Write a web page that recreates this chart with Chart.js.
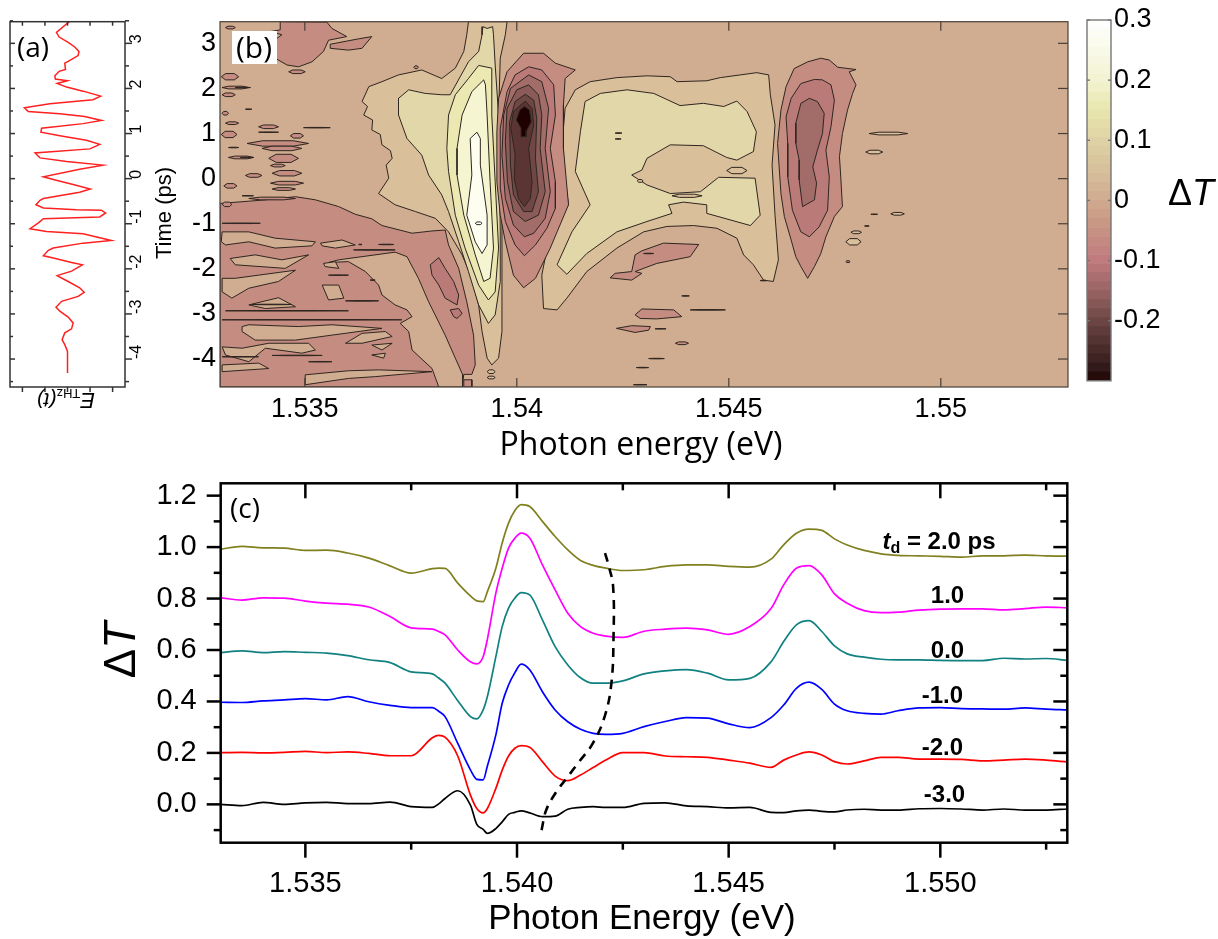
<!DOCTYPE html>
<html>
<head>
<meta charset="utf-8">
<title>Time resolved differential transmission</title>
<script src="https://cdn.jsdelivr.net/npm/chart.js@4"></script>
<style>
  html, body { margin: 0; padding: 0; background: #fff; }
  #page { position: relative; width: 1218px; height: 939px; overflow: hidden; }
  canvas { position: absolute; }
</style>
</head>
<body>
<div id="page">
  <canvas id="fieldChart"></canvas>
  <canvas id="mapChart"></canvas>
  <canvas id="barChart"></canvas>
  <canvas id="spectraChart"></canvas>
</div>
<script>
// panel (a): THz field against time
const fieldTime = [3.49,3.24,3.14,3.02,2.92,2.82,2.73,2.60,2.56,2.42,2.38,2.28,2.21,2.17,2.11,2.03,1.94,1.83,1.75,1.66,1.57,1.49,1.44,1.38,1.29,1.22,1.12,1.03,0.95,0.85,0.76,0.66,0.57,0.46,0.38,0.30,0.21,0.04,-0.02,-0.13,-0.23,-0.30,-0.44,-0.48,-0.58,-0.65,-0.69,-0.70,-0.76,-0.85,-0.89,-0.98,-1.11,-1.17,-1.22,-1.37,-1.43,-1.54,-1.59,-1.71,-1.76,-1.86,-1.91,-2.05,-2.15,-2.28,-2.42,-2.52,-2.61,-2.72,-2.85,-2.94,-3.07,-3.20,-3.33,-3.42,-3.57,-3.68,-3.83,-4.31];
const fieldValues = [0.10,-0.49,-0.37,0.03,0.32,0.51,0.47,0.03,-0.12,-0.09,-0.37,-0.56,-0.54,0,-0.46,-0.04,0.69,1.47,1.13,-0.78,-1.91,-1.74,-0.34,0.76,1.51,0.69,-1.15,-1.18,-0.34,0.84,1.43,0.99,-1.44,-1.22,-0.04,1.57,0.54,-1.07,-0.63,0.25,1.01,0.54,-1.07,-1.22,-1.40,-1.07,0.40,1.50,1.69,1.43,-1.07,-1.29,-1.66,-0.93,0.69,1.94,0.69,-0.63,-0.85,-1.07,-0.63,0.18,0.66,0.18,-0.46,0.03,0.54,0.74,0.47,-0.26,-0.51,-0.34,0.03,0.25,0.18,-0.12,-0.24,-0.12,0,0];
const timeTicks = [3,2,1,0,-1,-2,-3,-4];
const timeMinorTicks = [3.5,2.5,1.5,0.5,-0.5,-1.5,-2.5,-3.5,-4.5];
const fieldTicks = [-2,-1,0,1,2];

// panel (b): filled contours, lowest layer first, as [eV, ps]
const troughLower = [[1.533,-0.55],[1.53368,-0.50],[1.53407,-0.47],[1.53478,-0.40],[1.53525,-0.47],[1.53580,-0.62],[1.53619,-0.79],[1.53658,-0.89],[1.53682,-1.04],[1.53753,-1.21],[1.53800,-1.16],[1.53831,-1.14],[1.53839,-1.47],[1.53863,-1.99],[1.53882,-2.73],[1.53898,-3.47],[1.53902,-4.13],[1.53894,-4.34],[1.53875,-4.34],[1.53871,-4.62],[1.533,-4.62]];
const troughUpper = [
  [[1.53442,3.48],[1.53552,3.47],[1.53564,3.33],[1.53599,3.15],[1.53556,3.07],[1.53544,2.82],[1.53517,2.59],[1.53485,2.48],[1.53458,2.52],[1.53423,2.71],[1.53415,2.89],[1.53434,3.11],[1.53446,3.19],[1.53419,3.26],[1.53442,3.30]],
  [[1.53560,2.98],[1.53627,3.10],[1.53658,3.15],[1.53635,2.89],[1.53603,2.85],[1.53560,2.89]],
  [[1.54295,-1.60],[1.54346,-1.43],[1.54429,-1.46],[1.54409,-1.73],[1.54330,-1.88],[1.54279,-2.06],[1.54295,-2.10],[1.54271,-2.25],[1.54220,-2.20],[1.54232,-2.10],[1.54271,-2.06],[1.54279,-1.69]],
  [[1.54279,-3.02],[1.54295,-2.89],[1.54370,-2.91],[1.54389,-3.06],[1.54330,-3.11],[1.54291,-3.10]],
  [[1.54235,-3.32],[1.54271,-3.26],[1.54315,-3.28],[1.54311,-3.36],[1.54279,-3.41]],
  [[1.53875,-4.46],[1.53894,-4.46],[1.53894,-4.62],[1.53875,-4.62]]
];
const troughDeeper = [
  [[1.53796,-1.91],[1.53816,-1.75],[1.53831,-1.99],[1.53851,-2.28],[1.53863,-2.58],[1.53859,-2.80],[1.53831,-2.65],[1.53816,-2.36],[1.53800,-2.14]],
  [[1.53843,-2.91],[1.53863,-2.88],[1.53871,-2.99],[1.53859,-3.10],[1.53851,-3.06]]
];
const tanIslands = [
  [[1.53713,-1.63],[1.53741,-1.73],[1.53768,-2.21],[1.53792,-2.73],[1.53831,-3.47],[1.53855,-3.98],[1.53872,-4.34],[1.53872,-4.62],[1.53816,-4.62],[1.53800,-4.21],[1.53753,-3.80],[1.53745,-3.39],[1.53725,-3.21],[1.53753,-3.06],[1.53741,-2.91],[1.53713,-2.80],[1.53682,-2.58],[1.53674,-2.36],[1.53643,-2.06],[1.53603,-1.84],[1.53556,-1.86],[1.53580,-1.80]],
  [[1.53305,-1.18],[1.53368,-1.18],[1.53430,-1.32],[1.53525,-1.40],[1.53517,-1.49],[1.53430,-1.54],[1.53368,-1.40],[1.53313,-1.47],[1.53303,-1.40]],
  [[1.53537,-1.43],[1.53588,-1.36],[1.53619,-1.47],[1.53572,-1.54],[1.53541,-1.49]],
  [[1.53324,-1.77],[1.53383,-1.69],[1.53446,-1.80],[1.53509,-1.69],[1.53454,-1.99],[1.53336,-1.91]],
  [[1.53544,-1.88],[1.53572,-1.84],[1.53580,-1.99],[1.53548,-1.95]],
  [[1.53305,-2.21],[1.53336,-2.21],[1.53391,-2.14],[1.53478,-2.03],[1.53438,-2.28],[1.53368,-2.43],[1.53328,-2.65],[1.53305,-2.51]],
  [[1.53541,-2.36],[1.53580,-2.36],[1.53592,-2.65],[1.53556,-2.69]],
  [[1.53368,-2.80],[1.53438,-2.64],[1.53478,-2.84],[1.53407,-2.88]],
  [[1.53596,-3.65],[1.53635,-3.43],[1.53690,-3.39],[1.53706,-3.50],[1.53635,-3.65]],
  [[1.53305,-3.73],[1.53352,-3.76],[1.53415,-3.65],[1.53509,-3.65],[1.53525,-3.80],[1.53493,-3.87],[1.53407,-3.76],[1.53368,-4.06],[1.53313,-3.91]],
  [[1.53352,-3.28],[1.53368,-3.24],[1.53485,-3.28],[1.53564,-3.24],[1.53682,-3.32],[1.53564,-3.47],[1.53478,-3.58],[1.53383,-3.58],[1.53352,-3.39]],
  [[1.53305,-4.13],[1.53391,-4.09],[1.53415,-4.21],[1.53305,-4.28]],
  [[1.53501,-4.35],[1.53603,-4.26],[1.53674,-4.24],[1.53800,-4.28],[1.53666,-4.39],[1.53603,-4.43],[1.53501,-4.57]],
  [[1.53658,-3.69],[1.53706,-3.65],[1.53682,-3.80]],
  [[1.53658,-3.91],[1.53690,-3.87],[1.53686,-3.98]]
];
const lobeLevels = [
  [[1.53886,3.48],[1.53882,3.19],[1.53875,2.82],[1.53855,2.45],[1.53823,2.22],[1.53776,2.41],[1.53721,2.30],[1.53682,2.15],[1.53651,2.04],[1.53635,1.71],[1.53648,1.60],[1.53639,1.41],[1.53660,1.30],[1.53658,1.08],[1.53678,0.98],[1.53682,0.75],[1.53702,0.62],[1.53706,0.45],[1.53692,0.30],[1.53698,0.01],[1.53674,-0.33],[1.53713,-0.58],[1.53761,-0.73],[1.53808,-0.88],[1.53839,-1.18],[1.53871,-1.69],[1.53894,-2.21],[1.53910,-2.80],[1.53918,-3.39],[1.53930,-3.98],[1.53941,-4.13],[1.53957,-3.98],[1.53965,-3.39],[1.53965,-2.65],[1.53965,-1.54],[1.53965,-0.81],[1.53961,0.30],[1.53957,1.41],[1.53961,2.67],[1.53973,3.19],[1.53977,3.48]],
  [[1.53920,3.37],[1.53918,3.19],[1.53910,2.82],[1.53886,2.59],[1.53843,1.86],[1.53823,1.86],[1.53784,1.89],[1.53745,1.97],[1.53721,1.78],[1.53721,1.41],[1.53741,0.89],[1.53776,0.52],[1.53792,0.08],[1.53823,-0.36],[1.53839,-0.73],[1.53863,-1.40],[1.53886,-2.06],[1.53910,-2.80],[1.53933,-3.21],[1.53949,-3.02],[1.53961,-2.28],[1.53961,-1.18],[1.53957,1.41],[1.53949,2.52],[1.53945,3.19],[1.53943,3.37],[1.53930,3.33]],
  [[1.53941,2.45],[1.53910,2.51],[1.53886,2.22],[1.53855,1.86],[1.53839,1.41],[1.53835,0.67],[1.53839,0.16],[1.53855,-0.81],[1.53878,-1.54],[1.53910,-2.36],[1.53933,-2.69],[1.53949,-2.51],[1.53957,-1.54],[1.53949,-0.07],[1.53941,1.41],[1.53941,2.15]],
  [[1.53922,2.19],[1.53894,1.93],[1.53871,1.41],[1.53859,0.67],[1.53859,0.08],[1.53875,-0.81],[1.53902,-1.69],[1.53922,-2.28],[1.53937,-2.21],[1.53945,-1.54],[1.53937,-0.07],[1.53930,1.41],[1.53926,2.08]],
  [[1.53906,1.03],[1.53890,0.89],[1.53894,0.08],[1.53882,-0.81],[1.53902,-1.40],[1.53918,-1.66],[1.53930,-1.47],[1.53930,-0.81],[1.53914,0.30],[1.53914,0.89]]
];
const lobeColors = ['#dabf9b','#e2d7a9','#ebe9b1','#f5f5d2','#fdfdf0'];
const centerDipLevels = [
  [[1.54016,2.78],[1.54063,2.78],[1.54091,2.56],[1.54138,2.41],[1.54114,2.22],[1.54110,1.63],[1.54110,0.67],[1.54122,-0.58],[1.54095,-1.18],[1.54079,-1.54],[1.54044,-2.21],[1.54016,-2.42],[1.53992,-2.14],[1.53973,-1.40],[1.53961,-0.81],[1.53953,-0.07],[1.53953,1.04],[1.53957,1.78],[1.53977,2.37]],
  [[1.54028,2.48],[1.54059,2.41],[1.54087,2.08],[1.54091,1.41],[1.54079,0.67],[1.54091,-0.07],[1.54091,-0.66],[1.54071,-1.10],[1.54044,-1.47],[1.54018,-1.71],[1.53996,-1.47],[1.53973,-0.95],[1.53961,-0.21],[1.53961,1.12],[1.53977,1.93],[1.53996,2.30]],
  [[1.54028,2.30],[1.54059,2.15],[1.54075,1.56],[1.54067,0.67],[1.54079,-0.29],[1.54067,-0.88],[1.54040,-1.21],[1.54018,-1.29],[1.53992,-1.03],[1.53973,-0.44],[1.53965,0.52],[1.53969,1.41],[1.53985,2.00]],
  [[1.54028,2.08],[1.54051,1.86],[1.54059,1.41],[1.54055,0.67],[1.54067,-0.29],[1.54051,-0.81],[1.54020,-0.95],[1.53992,-0.73],[1.53978,-0.07],[1.53973,0.82],[1.53977,1.56],[1.54000,1.97]],
  [[1.54020,1.87],[1.54040,1.74],[1.54047,1.34],[1.54044,0.45],[1.54051,-0.29],[1.54036,-0.73],[1.54016,-0.73],[1.53992,-0.36],[1.53985,0.30],[1.53983,1.26],[1.53996,1.71]],
  [[1.54020,1.72],[1.54036,1.56],[1.54040,1.19],[1.54028,0.67],[1.54036,-0.07],[1.54032,-0.44],[1.54018,-0.62],[1.54004,-0.44],[1.53994,0.01],[1.53996,0.52],[1.53986,1.12],[1.53992,1.49]],
  [[1.54018,1.60],[1.54030,1.52],[1.54034,1.26],[1.54024,1.08],[1.54022,0.93],[1.54012,0.93],[1.54010,1.12],[1.53999,1.30],[1.54007,1.52]]
];
const dipColors = ['#c58d82','#ba7a78','#a26c69','#8a5b58','#6f4745','#5a3533','#1f0000'];
const middleLobes = [
  [[1.54138,1.97],[1.54173,2.15],[1.54236,2.24],[1.54307,2.28],[1.54362,2.26],[1.54378,2.15],[1.54448,2.17],[1.54480,2.24],[1.54527,2.30],[1.54566,2.35],[1.54594,2.30],[1.54598,1.86],[1.54609,1.19],[1.54602,0.30],[1.54609,-0.81],[1.54617,-1.80],[1.54605,-2.28],[1.54582,-2.25],[1.54558,-1.91],[1.54535,-1.69],[1.54519,-1.32],[1.54472,-1.10],[1.54417,-1.04],[1.54354,-1.06],[1.54299,-1.18],[1.54236,-1.54],[1.54165,-2.06],[1.54118,-2.65],[1.54095,-2.91],[1.54063,-2.88],[1.54059,-2.14],[1.54079,-1.18],[1.54122,-0.58],[1.54110,0.23],[1.54110,1.12],[1.54114,1.56]],
  [[1.54161,1.71],[1.54197,1.89],[1.54260,1.97],[1.54323,1.89],[1.54385,1.62],[1.54440,1.67],[1.54488,1.60],[1.54519,1.72],[1.54543,1.49],[1.54565,1.04],[1.54558,0.60],[1.54519,0.41],[1.54495,0.47],[1.54440,0.73],[1.54362,0.75],[1.54307,0.45],[1.54295,0.19],[1.54271,0.08],[1.54307,-0.14],[1.54362,-0.33],[1.54433,-0.29],[1.54476,0.03],[1.54562,0.01],[1.54574,-0.81],[1.54551,-1.04],[1.54448,-0.77],[1.54448,-0.58],[1.54393,-0.52],[1.54358,-0.58],[1.54366,-0.77],[1.54307,-0.95],[1.54236,-1.18],[1.54165,-1.66],[1.54118,-2.12],[1.54095,-1.91],[1.54130,-1.18],[1.54173,-0.58],[1.54138,0.16],[1.54150,1.04]]
];
const rightDipLevels = [
  [[1.54717,2.67],[1.54686,2.59],[1.54654,2.44],[1.54635,2.04],[1.54623,1.52],[1.54615,0.78],[1.54623,-0.33],[1.54631,-0.84],[1.54647,-1.36],[1.54658,-1.73],[1.54670,-1.95],[1.54686,-2.21],[1.54702,-1.95],[1.54717,-1.66],[1.54729,-1.29],[1.54749,-0.84],[1.54768,-0.62],[1.54764,0.04],[1.54761,0.49],[1.54768,1.00],[1.54780,1.52],[1.54792,1.89],[1.54800,2.08],[1.54784,2.37],[1.54800,2.42],[1.54757,2.47],[1.54737,2.63]],
  [[1.54702,2.20],[1.54670,2.11],[1.54647,1.78],[1.54635,1.37],[1.54639,0.78],[1.54639,0.04],[1.54650,-0.70],[1.54670,-1.18],[1.54690,-1.29],[1.54713,-1.07],[1.54733,-0.70],[1.54737,0.04],[1.54729,0.63],[1.54741,1.15],[1.54749,1.74],[1.54741,2.08],[1.54721,2.19]],
  [[1.54690,1.78],[1.54670,1.67],[1.54658,1.23],[1.54658,0.78],[1.54666,0.41],[1.54666,-0.03],[1.54674,-0.62],[1.54702,-0.47],[1.54707,-0.10],[1.54698,0.26],[1.54709,0.63],[1.54721,1.00],[1.54725,1.45],[1.54709,1.71]]
];
// small patches: [left eV, right eV, ps, half height]
const troughPatches = [[1.53303,1.53344,2.26,0.07],[1.53305,1.53368,2.02,0.03],[1.53305,1.53336,1.86,0.04],[1.53305,1.53320,1.45,0.04],[1.53313,1.53344,1.23,0.03],[1.53391,1.53438,1.15,0.04],[1.53303,1.53340,0.98,0.07],[1.53466,1.53497,0.95,0.05],[1.53364,1.53509,0.78,0.06],[1.53399,1.53493,0.67,0.05],[1.53415,1.53485,0.45,0.09],[1.53320,1.53379,0.47,0.03],[1.53419,1.53454,0.29,0.03],[1.53423,1.53493,0.12,0.06],[1.53360,1.53399,0.07,0.04],[1.53309,1.53340,-0.16,0.05],[1.53419,1.53497,-0.10,0.04],[1.53423,1.53478,-0.23,0.03],[1.53368,1.53478,-0.44,0.03],[1.53305,1.53328,-0.57,0.05],[1.53462,1.53501,2.37,0.04],[1.53313,1.53336,3.35,0.03],[1.53757,1.53768,2.47,0.03],[1.54374,1.54405,-3.65,0.03],[1.54236,1.54250,1.22,0.03],[1.54776,1.54786,-1.84,0.02]];
const palePatches = [[1.54831,1.54922,1.00,0.03],[1.54823,1.54863,0.59,0.04],[1.54882,1.54914,-0.78,0.03],[1.54788,1.54813,-1.19,0.03],[1.54776,1.54812,-1.40,0.07],[1.54495,1.54543,0.18,0.07],[1.54366,1.54437,-0.38,0.035],[1.54284,1.54298,-0.05,0.03],[1.53930,1.53949,-4.28,0.04],[1.53930,1.53949,-4.41,0.03]];
const whitePatches = [[1.53902,1.53918,-0.99,0.03]];
const noiseLines = [[1.53336,1.53372,2.02],[1.53360,1.53375,1.54],[1.53497,1.53560,1.13],[1.53391,1.53438,1.03],[1.53320,1.53344,0.69],[1.53348,1.53379,0.47],[1.53352,1.53379,-0.38],[1.53305,1.53395,-0.99],[1.53627,1.53635,-1.46],[1.53674,1.53710,-1.46],[1.53615,1.53713,-1.58],[1.53556,1.53603,-2.14],[1.53654,1.53666,-2.25],[1.53596,1.53674,-2.71],[1.53375,1.53470,-2.79],[1.53313,1.53603,-2.93],[1.53305,1.53729,-3.13],[1.53509,1.53564,-4.06],[1.53423,1.53541,-3.92],[1.53305,1.53391,-3.95],[1.54409,1.54492,-2.91],[1.54232,1.54248,1.01],[1.54232,1.54246,0.88],[1.54389,1.54407,-2.60],[1.54326,1.54352,-3.33],[1.54311,1.54348,-3.99],[1.54282,1.54311,-4.19],[1.54275,1.54307,-4.57],[1.54574,1.54590,-2.26],[1.54299,1.54323,-1.66],[1.54820,1.54831,-1.05],[1.54835,1.54851,-0.79]];
const mapEnergyTicks = [1.535,1.54,1.545,1.55];
const mapTimeTicks = [3,2,1,0,-1,-2,-3,-4];

// colour bar
const barEdges = [-0.3,-0.285,-0.27,-0.255,-0.24,-0.225,-0.21,-0.195,-0.18,-0.165,-0.15,-0.135,-0.12,-0.105,-0.09,-0.075,-0.06,-0.045,-0.03,-0.015,0,0.015,0.03,0.045,0.06,0.075,0.09,0.105,0.12,0.135,0.15,0.165,0.18,0.195,0.21,0.225,0.24,0.255,0.27,0.285,0.3];
const barStopValues = [-0.3,-0.285,-0.2,-0.15,-0.1,-0.05,0,0.05,0.1,0.15,0.2,0.3];
const barStopColors = [[30,0,0],[45,22,22],[108,70,68],[154,100,100],[192,122,126],[198,145,130],[208,171,143],[215,192,156],[222,210,165],[232,230,174],[243,243,210],[255,255,255]];
const barTicks = [0.3,0.2,0.1,0,-0.1,-0.2];

// panel (c): spectra on one energy grid
const energies = [1.533,1.5335,1.534,1.5345,1.535,1.5355,1.536,1.5365,1.537,1.5375,1.538,1.53815,1.5383,1.5386,1.5389,1.53905,1.5392,1.5393,1.5395,1.53965,1.5398,1.53995,1.5401,1.5403,1.5406,1.5409,1.5412,1.5415,1.5418,1.5421,1.5425,1.543,1.5435,1.544,1.5445,1.545,1.5455,1.546,1.5463,1.5466,1.5469,1.5472,1.5475,1.5478,1.5482,1.5486,1.549,1.5495,1.55,1.5505,1.551,1.5515,1.552,1.5525,1.553];
const spectrum2p0 = [0.992,1.003,0.997,0.996,0.987,0.988,0.977,0.957,0.927,0.899,0.916,0.918,0.917,0.860,0.810,0.791,0.788,0.827,0.918,1.016,1.093,1.142,1.165,1.158,1.100,1.041,0.989,0.948,0.929,0.918,0.909,0.912,0.925,0.931,0.931,0.925,0.922,0.953,1.009,1.054,1.070,1.065,1.032,1.008,0.987,0.974,0.968,0.966,0.964,0.961,0.966,0.966,0.969,0.966,0.965];
const spectrum1p0 = [0.803,0.794,0.803,0.802,0.790,0.782,0.778,0.767,0.730,0.686,0.681,0.672,0.659,0.600,0.554,0.546,0.574,0.642,0.821,0.918,0.996,1.035,1.054,1.035,0.931,0.834,0.743,0.691,0.665,0.654,0.649,0.673,0.681,0.685,0.678,0.661,0.691,0.761,0.853,0.918,0.928,0.892,0.818,0.782,0.753,0.745,0.747,0.755,0.759,0.760,0.760,0.756,0.761,0.767,0.764];
const spectrum0p0 = [0.590,0.597,0.590,0.594,0.591,0.588,0.578,0.562,0.551,0.515,0.507,0.491,0.471,0.403,0.341,0.332,0.367,0.419,0.574,0.691,0.763,0.802,0.823,0.814,0.717,0.613,0.542,0.492,0.471,0.471,0.480,0.507,0.519,0.524,0.510,0.484,0.490,0.554,0.633,0.698,0.714,0.672,0.616,0.585,0.572,0.564,0.562,0.562,0.560,0.559,0.559,0.568,0.565,0.567,0.560];
const spectrumM1p0 = [0.397,0.396,0.402,0.406,0.411,0.406,0.419,0.399,0.385,0.376,0.376,0.362,0.341,0.237,0.134,0.097,0.095,0.149,0.270,0.393,0.464,0.512,0.545,0.523,0.438,0.367,0.321,0.292,0.276,0.272,0.276,0.302,0.322,0.337,0.335,0.313,0.298,0.337,0.386,0.451,0.475,0.447,0.390,0.364,0.354,0.351,0.364,0.375,0.376,0.372,0.371,0.370,0.375,0.370,0.367];
const spectrumM2p0 = [0.201,0.202,0.200,0.202,0.206,0.201,0.204,0.198,0.189,0.189,0.259,0.268,0.261,0.188,0.036,-0.016,-0.033,-0.016,0.062,0.133,0.188,0.218,0.228,0.222,0.166,0.110,0.092,0.114,0.143,0.172,0.201,0.201,0.188,0.185,0.183,0.172,0.160,0.144,0.172,0.192,0.204,0.192,0.166,0.157,0.169,0.183,0.183,0.176,0.176,0.175,0.169,0.172,0.176,0.172,0.165];
const spectrumM3p0 = [0,-0.005,0.008,0,0.006,0.008,0.003,0.003,0.009,-0.009,-0.012,0.002,0.023,0.053,-0.003,-0.078,-0.097,-0.113,-0.094,-0.068,-0.039,-0.031,-0.025,-0.033,-0.048,-0.046,-0.019,-0.012,-0.009,-0.012,-0.012,0.004,0.006,-0.006,-0.009,-0.014,-0.012,-0.031,-0.032,-0.025,-0.022,-0.027,-0.029,-0.022,-0.019,-0.022,-0.022,-0.017,-0.016,-0.018,-0.022,-0.018,-0.022,-0.022,-0.018];
const dashEnergy = [1.54058,1.54069,1.54093,1.54117,1.54144,1.54179,1.54207,1.54223,1.54228,1.54227,1.54217,1.54205];
const dashValue = [-0.100,-0.022,0.049,0.101,0.160,0.237,0.341,0.471,0.652,0.847,0.925,0.993];
const delayLabels = ['1.0','0.0','-1.0','-2.0','-3.0'];
const delayEnergy = [1.55017,1.55017,1.55005,1.55005,1.5501];
const delayValue = [0.783,0.569,0.394,0.192,0.009];
const spectraEnergyTicks = [1.535,1.54,1.545,1.55];
const spectraEnergyMinor = [1.5375,1.5425,1.5475,1.5525];
const spectraValueTicks = [0,0.2,0.4,0.6,0.8,1,1.2];
const spectraValueMinor = [-0.1,0.1,0.3,0.5,0.7,0.9,1.1];

const SANS = '"Liberation Sans"';
const LINE = '#2f2620';

// frame, inward or outward tick marks and free text, all placed from the chart scales
const sketchPlugin = {
  id: 'sketch',
  afterDraw(chart, args, opts) {
    const ctx = chart.ctx;
    const a = chart.chartArea;
    ctx.save();
    (opts.ticks || []).forEach(t => {
      const horizontal = t.side === 'top' || t.side === 'bottom';
      const scale = horizontal ? chart.scales.x : chart.scales.y;
      ctx.strokeStyle = opts.color;
      ctx.lineWidth = t.width || opts.width;
      t.values.forEach(v => {
        const p = scale.getPixelForValue(v);
        ctx.beginPath();
        if (t.side === 'top') { ctx.moveTo(p, a.top); ctx.lineTo(p, a.top + t.len); }
        if (t.side === 'bottom') { ctx.moveTo(p, a.bottom); ctx.lineTo(p, a.bottom + t.len); }
        if (t.side === 'left') { ctx.moveTo(a.left, p); ctx.lineTo(a.left + t.len, p); }
        if (t.side === 'right') { ctx.moveTo(a.right, p); ctx.lineTo(a.right + t.len, p); }
        ctx.stroke();
      });
    });
    ctx.strokeStyle = opts.color;
    ctx.lineWidth = opts.width;
    ctx.strokeRect(a.left, a.top, a.right - a.left, a.bottom - a.top);
    ctx.restore();
    if (opts.text) {
      // the text helpers below work in page coordinates
      ctx.save();
      const canvasBox = chart.canvas.getBoundingClientRect();
      const page = chart.canvas.parentNode.getBoundingClientRect();
      ctx.translate(page.left - canvasBox.left, page.top - canvasBox.top);
      opts.text(ctx, chart, canvasBox.left - page.left, canvasBox.top - page.top);
      ctx.restore();
    }
  },
  beforeDatasetsDraw(chart, args, opts) {
    if (!opts.background) return;
    const a = chart.chartArea;
    chart.ctx.save();
    chart.ctx.fillStyle = opts.background;
    chart.ctx.fillRect(a.left, a.top, a.right - a.left, a.bottom - a.top);
    chart.ctx.restore();
  }
};
Chart.register(sketchPlugin);

// writes a run of differently styled pieces of text one after the other
function writeRuns(ctx, x, y, angle, runs, align) {
  ctx.save();
  ctx.translate(x, y);
  ctx.rotate(angle);
  ctx.fillStyle = '#000';
  ctx.textBaseline = 'alphabetic';
  ctx.textAlign = 'left';
  let total = 0;
  runs.forEach(r => { ctx.font = r.font; total += ctx.measureText(r.text).width; });
  let pos = align === 'center' ? -total / 2 : 0;
  runs.forEach(r => {
    ctx.font = r.font;
    ctx.fillText(r.text, pos, r.dy || 0);
    pos += ctx.measureText(r.text).width;
  });
  ctx.restore();
}

function fixTicks(list) {
  return scale => { scale.ticks = list.map(v => ({ value: v })); };
}

function plainScale(min, max, extra) {
  return Object.assign({
    type: 'linear', min: min, max: max,
    grid: { display: false, drawTicks: false },
    border: { display: false }
  }, extra);
}

// sizes the canvas to box and pads it so that the plot area lands on area
function setup(id, box, area, axis, config) {
  const canvas = document.getElementById(id);
  canvas.width = box.w;
  canvas.height = box.h;
  canvas.style.left = box.x + 'px';
  canvas.style.top = box.y + 'px';
  canvas.style.width = box.w + 'px';
  canvas.style.height = box.h + 'px';
  config.options.responsive = false;
  config.options.animation = false;
  config.options.layout = { padding: {
    left: area.left - box.x - (axis.left || 0),
    right: box.x + box.w - area.right - (axis.right || 0),
    top: area.top - box.y,
    bottom: box.y + box.h - area.bottom - (axis.bottom || 0)
  } };
  config.options.plugins.legend = { display: false };
  config.options.plugins.tooltip = { enabled: false };
  return new Chart(canvas, config);
}

// ---- panel (a)
setup('fieldChart', { x: 0, y: 0, w: 215, h: 440 }, { left: 10, top: 21.7, right: 125, bottom: 387 }, { right: 60 }, {
  type: 'line',
  data: { datasets: [{
    data: fieldTime.map((t, i) => ({ x: fieldValues[i], y: t })),
    borderColor: '#ff2020', borderWidth: 1.5, pointRadius: 0, tension: 0
  }] },
  options: {
    scales: {
      x: plainScale(-2.55, 2.55, { display: false }),
      y: plainScale(-4.62, 3.48, {
        position: 'right',
        afterBuildTicks: fixTicks(timeTicks),
        afterFit: s => { s.width = 60; },
        ticks: { minRotation: 90, maxRotation: 90, padding: 12, color: '#000', font: { family: SANS, size: 16 }, callback: v => String(v) }
      })
    },
    plugins: { sketch: {
      color: '#333', width: 1.5,
      ticks: [
        { side: 'right', values: timeTicks, len: 7 },
        { side: 'right', values: timeMinorTicks, len: 4 },
        { side: 'left', values: timeTicks, len: 5 },
        { side: 'left', values: timeMinorTicks, len: 3 },
        { side: 'bottom', values: fieldTicks, len: 5 },
        { side: 'top', values: fieldTicks, len: 4 }
      ],
      text(ctx) {
        writeRuns(ctx, 17, 57, 0, [{ text: '(a)', font: '28px "Open Sans"' }]);
        writeRuns(ctx, 171, 213, -Math.PI / 2, [{ text: 'Time (ps)', font: '22px ' + SANS }], 'center');
        writeRuns(ctx, 95, 393, Math.PI, [
          { text: 'E', font: 'italic 22px ' + SANS },
          { text: 'THz', font: '13px ' + SANS, dy: 4 },
          { text: '(t)', font: 'italic 21px ' + SANS }
        ]);
      }
    } }
  }
});

// ---- panel (b)
function polygon(points, fillColor) {
  const closed = points.concat([points[0]]);
  return {
    data: closed.map(p => ({ x: p[0], y: p[1] })),
    fill: 'shape', backgroundColor: fillColor,
    borderColor: LINE, borderWidth: 1, pointRadius: 0, tension: 0
  };
}
function patch(p, fillColor) {
  const mid = (p[0] + p[1]) / 2;
  const q = (p[1] - p[0]) / 4;
  return polygon([[p[0], p[2]], [mid - q, p[2] + p[3]], [mid + q, p[2] + p[3]], [p[1], p[2]], [mid + q, p[2] - p[3]], [mid - q, p[2] - p[3]]], fillColor);
}
const PINK = '#c58d82';
const DEEP = '#ba7a78';
const TAN = '#d0ac90';
const mapLayers = [polygon(troughLower, PINK)]
  .concat(troughDeeper.map(p => polygon(p, DEEP)))
  .concat(tanIslands.map(p => polygon(p, TAN)))
  .concat(troughUpper.map(p => polygon(p, PINK)))
  .concat(troughPatches.map(p => patch(p, PINK)))
  .concat(middleLobes.map((p, i) => polygon(p, lobeColors[i])))
  .concat(lobeLevels.map((p, i) => polygon(p, lobeColors[i])))
  .concat(centerDipLevels.map((p, i) => polygon(p, dipColors[i])))
  .concat(rightDipLevels.map((p, i) => polygon(p, dipColors[i])))
  .concat(palePatches.map(p => patch(p, lobeColors[0])))
  .concat(whitePatches.map(p => patch(p, '#ffffff')))
  .concat(noiseLines.map(p => patch([p[0], p[1], p[2], 0.006], LINE)));
// Chart.js paints the first dataset last, so the list goes in reversed
setup('mapChart', { x: 170, y: 0, w: 900, h: 470 }, { left: 220, top: 21.7, right: 1068, bottom: 387 }, { left: 40, bottom: 45 }, {
  type: 'line',
  data: { datasets: mapLayers.slice().reverse() },
  options: {
    scales: {
      x: plainScale(1.533, 1.553, {
        afterBuildTicks: fixTicks(mapEnergyTicks),
        afterFit: s => { s.height = 45; },
        ticks: { maxRotation: 0, padding: 6, color: '#000', font: { family: SANS, size: 27 }, callback: v => String(v) }
      }),
      y: plainScale(-4.62, 3.48, {
        afterBuildTicks: fixTicks(mapTimeTicks),
        afterFit: s => { s.width = 40; },
        ticks: { padding: 4, color: '#000', font: { family: SANS, size: 27 }, callback: v => String(v) }
      })
    },
    plugins: { sketch: {
      color: '#4a4038', width: 1.2, background: TAN,
      ticks: [
        { side: 'bottom', values: mapEnergyTicks, len: -9 },
        { side: 'top', values: mapEnergyTicks, len: 9 },
        { side: 'right', values: mapTimeTicks, len: -10 }
      ],
      text(ctx) {
        ctx.save();
        ctx.fillStyle = '#fff';
        ctx.fillRect(232, 31, 45, 33);
        ctx.restore();
        writeRuns(ctx, 254, 58, 0, [{ text: '(b)', font: '30px "Open Sans"' }], 'center');
        writeRuns(ctx, 641, 455, 0, [{ text: 'Photon energy (eV)', font: '32px "Open Sans"' }], 'center');
      }
    } }
  }
});

// ---- colour bar
function barColor(v) {
  let i = 0;
  while (i < barStopValues.length - 2 && v > barStopValues[i + 1]) i++;
  const k = (v - barStopValues[i]) / (barStopValues[i + 1] - barStopValues[i]);
  const c = barStopColors[i].map((c0, j) => Math.round(c0 + (barStopColors[i + 1][j] - c0) * k));
  return 'rgb(' + c.join(',') + ')';
}
setup('barChart', { x: 1075, y: 0, w: 143, h: 400 }, { left: 1087, top: 20, right: 1111, bottom: 387 }, { right: 60 }, {
  type: 'bar',
  data: {
    labels: ['\u0394T'],
    datasets: barEdges.slice(1).map((hi, i) => ({
      data: [[barEdges[i], hi]],
      backgroundColor: barColor((barEdges[i] + hi) / 2),
      barPercentage: 1, categoryPercentage: 1, grouped: false, borderWidth: 0
    }))
  },
  options: {
    scales: {
      x: { display: false },
      y: plainScale(-0.3, 0.3, {
        position: 'right',
        afterBuildTicks: fixTicks(barTicks),
        afterFit: s => { s.width = 60; },
        ticks: { padding: 3, color: '#000', font: { family: SANS, size: 27 }, callback: v => String(v) }
      })
    },
    plugins: { sketch: {
      color: '#777', width: 1.4,
      ticks: [
        { side: 'left', values: barTicks, len: 3 },
        { side: 'right', values: barTicks, len: -3 }
      ],
      text(ctx) {
        writeRuns(ctx, 1168, 205, 0, [
          { text: '\u0394', font: '36px ' + SANS },
          { text: 'T', font: 'italic 36px ' + SANS }
        ]);
      }
    } }
  }
});

// ---- panel (c)
function spectrum(values, color) {
  return {
    data: energies.map((e, i) => ({ x: e, y: values[i] })),
    borderColor: color, borderWidth: 1.7, pointRadius: 0, cubicInterpolationMode: 'monotone'
  };
}
setup('spectraChart', { x: 90, y: 435, w: 1000, h: 504 }, { left: 220.7, top: 483.3, right: 1067.3, bottom: 842.7 }, { left: 100, bottom: 60 }, {
  type: 'line',
  data: { datasets: [
    {
      data: dashEnergy.map((e, i) => ({ x: e, y: dashValue[i] })),
      borderColor: '#000', borderWidth: 2.6, borderDash: [9, 7], pointRadius: 0, tension: 0.4
    },
    spectrum(spectrum2p0, '#808020'),
    spectrum(spectrum1p0, '#ff00ff'),
    spectrum(spectrum0p0, '#108080'),
    spectrum(spectrumM1p0, '#0000ff'),
    spectrum(spectrumM2p0, '#ff0000'),
    spectrum(spectrumM3p0, '#000000')
  ] },
  options: {
    scales: {
      x: plainScale(1.533, 1.553, {
        afterBuildTicks: fixTicks(spectraEnergyTicks),
        afterFit: s => { s.height = 60; },
        ticks: { maxRotation: 0, padding: 24, color: '#000', font: { family: SANS, size: 29 }, callback: v => v.toFixed(3) }
      }),
      y: plainScale(-0.149, 1.248, {
        afterBuildTicks: fixTicks(spectraValueTicks),
        afterFit: s => { s.width = 100; },
        ticks: { padding: 24, color: '#000', font: { family: SANS, size: 29 }, callback: v => v.toFixed(1) }
      })
    },
    plugins: { sketch: {
      color: '#000', width: 2.5,
      ticks: [
        { side: 'bottom', values: spectraEnergyTicks, len: 15 },
        { side: 'bottom', values: spectraEnergyMinor, len: 7 },
        { side: 'top', values: spectraEnergyTicks, len: 15 },
        { side: 'top', values: spectraEnergyMinor, len: 7 },
        { side: 'left', values: spectraValueTicks, len: -14 },
        { side: 'left', values: spectraValueMinor, len: -7 },
        { side: 'right', values: spectraValueTicks, len: -14 },
        { side: 'right', values: spectraValueMinor, len: -7 }
      ],
      text(ctx, chart, offsetX, offsetY) {
        const sx = chart.scales.x;
        const sy = chart.scales.y;
        writeRuns(ctx, 230, 518, 0, [{ text: '(c)', font: '28px "Open Sans"' }]);
        writeRuns(ctx, 642, 929, 0, [{ text: 'Photon Energy (eV)', font: '35px ' + SANS }], 'center');
        writeRuns(ctx, 135, 650, -Math.PI / 2, [
          { text: '\u0394', font: '44px ' + SANS },
          { text: 'T', font: 'italic 44px ' + SANS }
        ], 'center');
        writeRuns(ctx, offsetX + sx.getPixelForValue(1.54997), offsetY + sy.getPixelForValue(0.993), 0, [
          { text: 't', font: 'italic bold 24px ' + SANS },
          { text: 'd', font: 'bold 16px ' + SANS, dy: 4 },
          { text: ' = 2.0 ps', font: 'bold 24px ' + SANS }
        ], 'center');
        delayLabels.forEach((label, i) => {
          writeRuns(ctx, offsetX + sx.getPixelForValue(delayEnergy[i]), offsetY + sy.getPixelForValue(delayValue[i]), 0, [
            { text: label, font: 'bold 24px ' + SANS }
          ], 'center');
        });
      }
    } }
  }
});
</script>
</body>
</html>
